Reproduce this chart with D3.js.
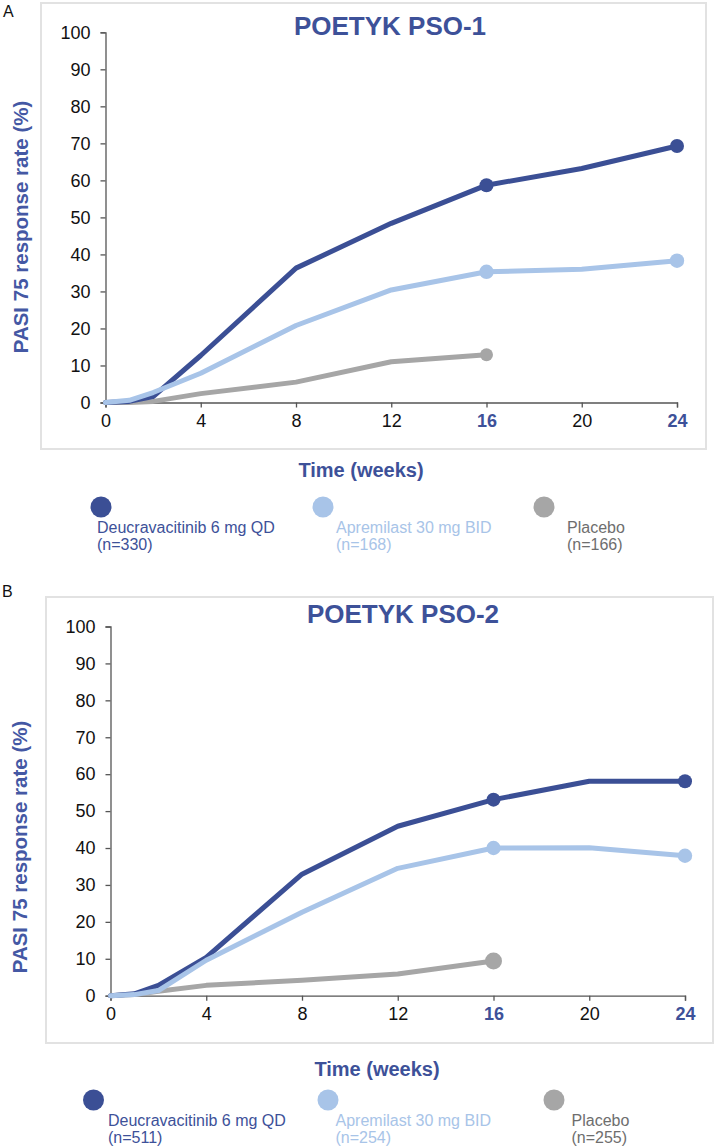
<!DOCTYPE html>
<html>
<head>
<meta charset="utf-8">
<script src="https://cdn.jsdelivr.net/npm/d3@7"></script>
<style>
  html, body { margin: 0; padding: 0; background: #fff; }
  svg { display: block; font-family: "Liberation Sans", Arial, sans-serif; }
</style>
</head>
<body>
<svg id="chart" width="714" height="1147"></svg>
<script>
// ---- data ----
const weeks = [0, 1, 2, 4, 8, 12, 16, 20, 24];
const placeboWeeks = [0, 1, 2, 4, 8, 12, 16];
const xTickValues = [0, 4, 8, 12, 16, 20, 24];
const yTickValues = [0, 10, 20, 30, 40, 50, 60, 70, 80, 90, 100];
const highlightTicks = [16, 24];
const markerWeeks = [16, 24];

const titles = ["POETYK PSO-1", "POETYK PSO-2"];
const panelLetters = ["A", "B"];
const seriesNames = ["Deucravacitinib 6 mg QD", "Apremilast 30 mg BID", "Placebo"];
const nLabels1 = ["(n=330)", "(n=168)", "(n=166)"];
const nLabels2 = ["(n=511)", "(n=254)", "(n=255)"];

const deuc1 = [0, 0.3, 1.6, 12.7, 36.3, 48.4, 58.7, 63.2, 69.3];
const apre1 = [0, 0.6, 2.7, 7.9, 20.8, 30.4, 35.3, 36.0, 38.3];
const plac1 = [0, 0, 0.3, 2.4, 5.5, 11.0, 12.9];

const deuc2 = [0, 0.5, 2.8, 10.4, 32.9, 45.9, 53.1, 58.1, 58.1];
const apre2 = [0, 0.3, 1.4, 9.6, 22.6, 34.5, 40.0, 40.1, 37.9];
const plac2 = [0, 0.3, 1.2, 2.8, 4.2, 5.9, 9.4];

// ---- styles ----
const colDark = "#3b4f95";
const colLight = "#a8c4e8";
const colGray = "#a6a6a6";
const textBlue = "#3d5199";
const colors = [colDark, colLight, colGray];
const legendTextColors = [textBlue, "#a8c4e8", "#6e6e6e"];

const panels = [
  {
    title: titles[0], letter: panelLetters[0], nLabels: nLabels1,
    series: [deuc1, apre1, plac1],
    frame: [41, 3, 706, 449], letterPos: [3, 17],
    xr: [105.5, 677], yr: [402.5, 32.3], titleX: 390, titleY: 35,
    xlabX: 361, xlabY: 477, ylabX: 27.5, ylabY: 227,
    legY: 507, legCx: [101, 323, 544], legTx: [97, 336, 567], legTy: 533,
    mr: [7, 7.2, 6.5]
  },
  {
    title: titles[1], letter: panelLetters[1], nLabels: nLabels2,
    series: [deuc2, apre2, plac2],
    frame: [46, 597, 713, 1043], letterPos: [2, 597],
    xr: [110.5, 685], yr: [995.7, 626.5], titleX: 403, titleY: 623,
    xlabX: 377, xlabY: 1076, ylabX: 26.5, ylabY: 847,
    legY: 1100, legCx: [93.5, 328, 554], legTx: [108, 335.5, 571.5], legTy: 1126,
    mr: [7, 7.2, 8.5]
  }
];

const svg = d3.select("#chart");

panels.forEach(p => {
  const g = svg.append("g");
  const [fx0, fy0, fx1, fy1] = p.frame;
  g.append("rect")
    .attr("x", fx0).attr("y", fy0)
    .attr("width", fx1 - fx0).attr("height", fy1 - fy0)
    .attr("fill", "none").attr("stroke", "#e2e2e2").attr("stroke-width", 2);

  g.append("text").attr("x", p.letterPos[0]).attr("y", p.letterPos[1])
    .attr("font-size", 16).attr("fill", "#111").text(p.letter);

  const x = d3.scaleLinear().domain([0, 24]).range(p.xr);
  const y = d3.scaleLinear().domain([0, 100]).range(p.yr);

  // y axis
  const ya = g.append("g").attr("transform", `translate(${p.xr[0]},0)`)
    .call(d3.axisLeft(y).tickValues(yTickValues).tickSize(5).tickPadding(10));
  ya.selectAll("text").attr("font-size", 18).attr("fill", "#111")
    .attr("font-family", "Liberation Sans, Arial, sans-serif");
  ya.selectAll("path,line").attr("stroke", "#555").attr("stroke-width", 1.3);

  // x axis
  const xa = g.append("g").attr("transform", `translate(0,${p.yr[0]})`)
    .call(d3.axisBottom(x).tickValues(xTickValues).tickSize(5).tickPadding(7));
  xa.selectAll("text").attr("font-size", 18)
    .attr("font-family", "Liberation Sans, Arial, sans-serif")
    .attr("fill", d => highlightTicks.includes(d) ? textBlue : "#111")
    .attr("font-weight", d => highlightTicks.includes(d) ? "bold" : "normal");
  xa.selectAll("path,line").attr("stroke", "#555").attr("stroke-width", 1.3);

  // title
  g.append("text").attr("x", p.titleX).attr("y", p.titleY)
    .attr("text-anchor", "middle").attr("font-size", 26).attr("font-weight", "bold")
    .attr("fill", textBlue).text(p.title);

  // axis titles
  g.append("text").attr("x", p.xlabX).attr("y", p.xlabY)
    .attr("text-anchor", "middle").attr("font-size", 20).attr("font-weight", "bold")
    .attr("fill", textBlue).text("Time (weeks)");
  g.append("text")
    .attr("transform", `translate(${p.ylabX},${p.ylabY}) rotate(-90)`)
    .attr("text-anchor", "middle").attr("font-size", 20.5).attr("font-weight", "bold")
    .attr("fill", "#4458a4").text("PASI 75 response rate (%)");

  // lines
  const line = d3.line().x(d => x(d[0])).y(d => y(d[1]));
  const order = [2, 0, 1];
  order.forEach(i => {
    const wk = i === 2 ? placeboWeeks : weeks;
    const pts = p.series[i].map((v, j) => [wk[j], v]);
    g.append("path").datum(pts)
      .attr("d", line).attr("fill", "none")
      .attr("stroke", colors[i]).attr("stroke-width", 5)
      .attr("stroke-linejoin", "round").attr("stroke-linecap", "round");
    const marks = pts.filter(d => markerWeeks.includes(d[0]));
    g.selectAll(null).data(marks).enter().append("circle")
      .attr("cx", d => x(d[0])).attr("cy", d => y(d[1]))
      .attr("r", p.mr[i]).attr("fill", colors[i]);
  });

  // legend
  seriesNames.forEach((name, i) => {
    g.append("circle").attr("cx", p.legCx[i]).attr("cy", p.legY)
      .attr("r", 10.5).attr("fill", colors[i]);
    const t = g.append("text").attr("x", p.legTx[i]).attr("y", p.legTy)
      .attr("font-size", 16).attr("fill", legendTextColors[i]);
    t.append("tspan").attr("x", p.legTx[i]).text(name);
    t.append("tspan").attr("x", p.legTx[i]).attr("dy", 17).text(p.nLabels[i]);
  });
});
</script>
</body>
</html>
